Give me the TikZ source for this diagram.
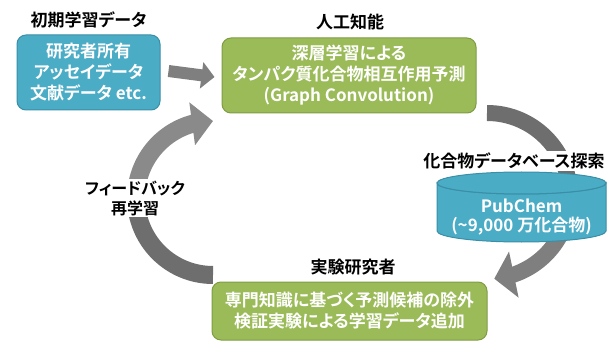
\documentclass[tikz,border=0pt]{standalone}
\usepackage{fontspec}
\newfontfamily\jp{Noto Sans CJK JP Bold}[RawFeature=+palt]
\usetikzlibrary{arrows.meta,bending}
\definecolor{boxblue}{HTML}{4BACC6}
\definecolor{boxblueline}{HTML}{3A8EA6}
\definecolor{boxgreen}{HTML}{9BBB59}
\definecolor{boxgreenline}{HTML}{7F9C43}
\definecolor{graymid}{HTML}{7F7F7F}
\definecolor{graydark}{HTML}{6E6E6E}
\definecolor{graylight}{HTML}{8A8A8A}
\begin{document}
\begin{tikzpicture}[x=1pt,y=-1pt,
  txt/.style={font=\jp\fontsize{17}{21}\selectfont, align=center, inner sep=0pt},
  bluebox/.style={txt, fill=boxblue, draw=boxblueline, line width=1pt, rounded corners=9pt, text=white},
  greenbox/.style={txt, fill=boxgreen, draw=boxgreenline, line width=1pt, rounded corners=9pt, text=white},
  title/.style={txt, text=black},
  label/.style={txt, text=black, fill=white, inner sep=2pt},
]
\useasboundingbox (0,0) rectangle (611,342);

% circular arrows
\coordinate (l1) at (213,275);
\coordinate (l2) at (136,198);
\coordinate (r1) at (487,113);
\coordinate (r2) at (570,196);
\draw[line width=18pt, draw=graydark] (l1) arc[start angle=90, end angle=180, radius=77];
\draw[line width=18pt, draw=graylight, -{Triangle[width=42pt,length=21pt]}] (l2) arc[start angle=180, end angle=270, radius=77];
\draw[line width=16pt, draw=graydark] (r1) arc[start angle=-90, end angle=0, radius=83];
\draw[line width=16pt, draw=graymid, -{Triangle[width=46pt,length=20pt]}] (r2) arc[start angle=0, end angle=85, radius=83];

% database label and cylinder
\node[label] (dbt) at (514,161) {化合物データベース探索};
\path[fill=boxblue, draw=boxblueline, line width=1pt] (437,183) -- (437,231)
  arc[start angle=180, end angle=0, x radius=84.5, y radius=11] -- (606,183)
  arc[start angle=0, end angle=180, x radius=84.5, y radius=11] -- cycle;
\path[fill=boxblue, draw=boxblueline, line width=1pt] (521.5,183) ellipse[x radius=84.5, y radius=11];
\node[txt, text=white, font=\jp\fontsize{17}{19}\selectfont] (pub) at (521.5,217.5) {PubChem\\(\textasciitilde 9,000 万化合物)};

% feedback label
\node[label, font=\jp\fontsize{16}{20}\selectfont] (fb) at (135,198) {フィードバック\\再学習};

% titles
\node[title] (t1) at (88.5,20) {初期学習データ};
\node[title] (t2) at (350,22) {人工知能};
\node[title] (t3) at (353,267) {実験研究者};

% boxes
\node[bluebox, minimum width=143pt, minimum height=75pt] (data) at (88.5,72.5) {研究者所有\\アッセイデータ\\文献データ etc.};
\node[greenbox, minimum width=254pt, minimum height=75pt] (ai) at (349,75.5) {深層学習による\\タンパク質化合物相互作用予測\\(Graph Convolution)};
\node[greenbox, minimum width=275pt, minimum height=58pt] (exp) at (349.5,311) {専門知識に基づく予測候補の除外\\検証実験による学習データ追加};

% straight arrow
\draw[line width=12pt, draw=graymid, -{Triangle[width=26pt,length=13pt]}]
  ([xshift=8pt,yshift=1.5pt]data.east) -- ([xshift=-7pt,yshift=-1.5pt]ai.west);
\end{tikzpicture}
\end{document}
